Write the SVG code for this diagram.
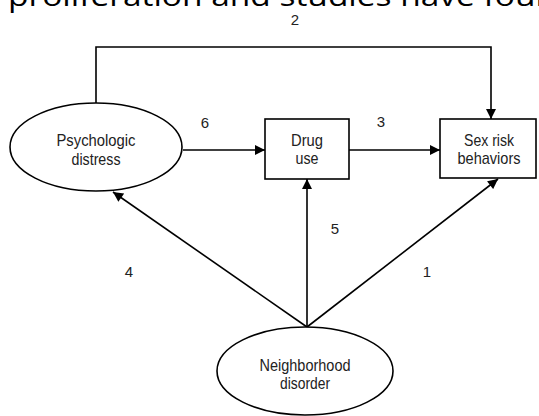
<svg xmlns="http://www.w3.org/2000/svg" width="539" height="416" viewBox="0 0 539 416">
<defs>
<marker id="ah" viewBox="0 0 10 10" refX="10" refY="5" markerWidth="11" markerHeight="10" markerUnits="userSpaceOnUse" orient="auto">
<path d="M0,0 L10,5 L0,10 z" fill="#000"/>
</marker>
<style>
.node{fill:#fff;stroke:#000;stroke-width:1.6}
.lbl{font-family:"Liberation Sans",Arial,sans-serif;font-size:17px;fill:#222;text-anchor:middle}
.num{font-family:"Liberation Sans",Arial,sans-serif;font-size:15px;fill:#222;text-anchor:middle}
.edge{fill:none;stroke:#000;stroke-width:1.6;marker-end:url(#ah)}
</style>
</defs>
<rect width="539" height="416" fill="#fff"/>
<text x="8" y="6" font-family="'Open Sans',sans-serif" font-size="28" fill="#000" textLength="548" lengthAdjust="spacingAndGlyphs">proliferation and studies have foun</text>
<g id="connectors">
<path class="edge" d="M96,103 V47 H491 V119"/>
<path class="edge" d="M183,150 H265"/>
<path class="edge" d="M349,150 H440"/>
<path class="edge" d="M307,327 L113,192"/>
<path class="edge" d="M307,327 V179"/>
<path class="edge" d="M307,327 L498,179"/>
<text class="num" x="295" y="25">2</text>
<text class="num" x="205" y="128">6</text>
<text class="num" x="381" y="127">3</text>
<text class="num" x="129" y="277">4</text>
<text class="num" x="335" y="234">5</text>
<text class="num" x="427" y="277">1</text>
</g>
<g id="psych">
<ellipse class="node" cx="96" cy="147" rx="86" ry="44"/>
<text class="lbl" x="96" y="146" textLength="79" lengthAdjust="spacingAndGlyphs">Psychologic</text>
<text class="lbl" x="96" y="165" textLength="49" lengthAdjust="spacingAndGlyphs">distress</text>
</g>
<g id="drug">
<rect class="node" x="265" y="119" width="84" height="60"/>
<text class="lbl" x="307" y="146" textLength="32" lengthAdjust="spacingAndGlyphs">Drug</text>
<text class="lbl" x="307" y="164" textLength="23" lengthAdjust="spacingAndGlyphs">use</text>
</g>
<g id="sex">
<rect class="node" x="440" y="119" width="96" height="59"/>
<text class="lbl" x="489" y="146" textLength="50" lengthAdjust="spacingAndGlyphs">Sex risk</text>
<text class="lbl" x="489" y="164" textLength="63" lengthAdjust="spacingAndGlyphs">behaviors</text>
</g>
<g id="neigh">
<ellipse class="node" cx="305" cy="371" rx="88" ry="44"/>
<text class="lbl" x="305" y="371" textLength="91" lengthAdjust="spacingAndGlyphs">Neighborhood</text>
<text class="lbl" x="305" y="389" textLength="50" lengthAdjust="spacingAndGlyphs">disorder</text>
</g>
</svg>
